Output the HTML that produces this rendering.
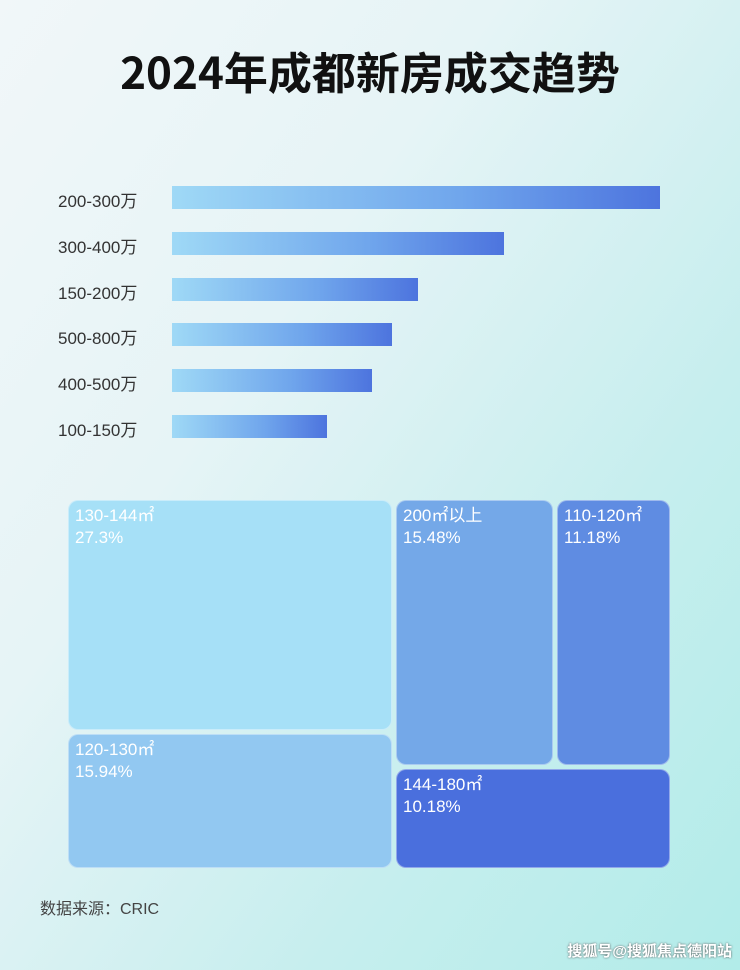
<!DOCTYPE html>
<html><head><meta charset="utf-8"><style>
body{margin:0;width:740px;height:970px;overflow:hidden;position:relative;font-family:"Liberation Sans","Noto Sans CJK SC",sans-serif;
background:linear-gradient(125deg,#f1f7f9 0%,#e6f4f6 35%,#c6eeee 70%,#b2ece9 100%);}
.t{position:absolute;left:0;width:740px;top:40px;text-align:center;font-size:44px;font-weight:bold;color:#111;font-family:"Noto Sans CJK SC",sans-serif;line-height:60px}
.l{position:absolute;left:58px;font-size:17px;color:#333;width:102px;}
.b{position:absolute;left:172px;height:23px;background:linear-gradient(90deg,#9fd9f6,#6fa5ec 60%,#4d74de);}
.r{position:absolute;border-radius:10px;color:#fff;font-size:17px;line-height:22px;padding:4px 6px;box-sizing:border-box;border:1px solid rgba(255,255,255,.4)}
.s{position:absolute;left:40px;top:895px;font-size:16px;color:#444;}
.w{position:absolute;right:8px;top:940px;font-size:15px;color:#fff;font-weight:bold;text-shadow:0 0 2px #555;}
</style></head><body>
<div class="t">2024年成都新房成交趋势</div>
<div class="l" style="top:187px">200-300万</div><div class="b" style="top:186px;width:488px"></div>
<div class="l" style="top:233px">300-400万</div><div class="b" style="top:232px;width:332px"></div>
<div class="l" style="top:279px">150-200万</div><div class="b" style="top:278px;width:246px"></div>
<div class="l" style="top:324px">500-800万</div><div class="b" style="top:323px;width:220px"></div>
<div class="l" style="top:370px">400-500万</div><div class="b" style="top:369px;width:200px"></div>
<div class="l" style="top:416px">100-150万</div><div class="b" style="top:415px;width:155px"></div>
<div class="r" style="left:68px;top:500px;width:324px;height:230px;background:#a6e0f7">130-144㎡<br>27.3%</div>
<div class="r" style="left:68px;top:734px;width:324px;height:134px;background:#92c8f1">120-130㎡<br>15.94%</div>
<div class="r" style="left:396px;top:500px;width:157px;height:265px;background:#74a8e8">200㎡以上<br>15.48%</div>
<div class="r" style="left:557px;top:500px;width:113px;height:265px;background:#5f8ce2">110-120㎡<br>11.18%</div>
<div class="r" style="left:396px;top:769px;width:274px;height:99px;background:#4a6fdd">144-180㎡<br>10.18%</div>
<div class="s">数据来源：CRIC</div>
<div class="w">搜狐号@搜狐焦点德阳站</div>
</body></html>
